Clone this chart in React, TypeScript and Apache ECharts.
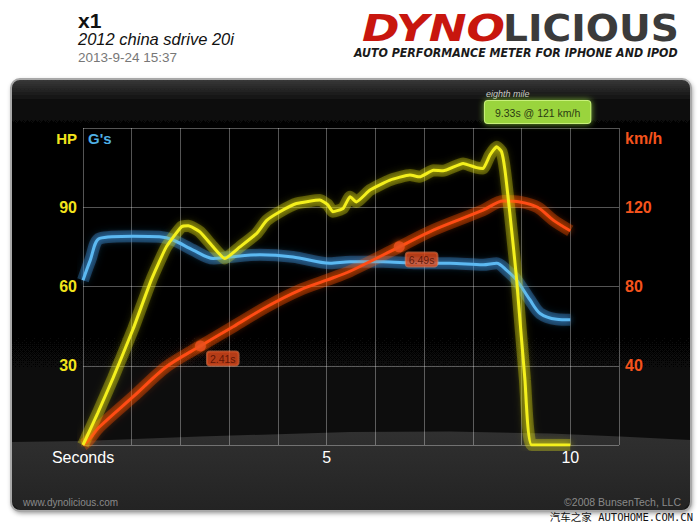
import React, { useEffect, useRef } from "react";
import * as echarts from "echarts";

// ---- data ----
const hpData: [number, number][] = [
  [0, 0], [0.3, 12], [0.62, 25.5], [1.03, 44], [1.4, 62.4], [1.71, 75], [2.02, 82.6],
  [2.16, 83], [2.4, 80.7], [2.67, 75], [2.91, 70.6], [3.22, 75], [3.56, 80], [3.77, 85],
  [4.04, 88.3], [4.38, 91.4], [4.86, 92.7], [5.02, 91], [5.13, 88.3], [5.34, 89.6],
  [5.48, 94], [5.61, 92], [5.89, 96.5], [6.3, 100.3], [6.71, 102.2], [6.91, 101.5],
  [7.19, 104], [7.39, 103.8], [7.8, 106.6], [8.08, 105], [8.21, 104.7], [8.35, 109.7],
  [8.49, 112.9], [8.59, 111], [8.66, 104], [8.76, 87.7], [8.86, 70], [8.9, 62.4],
  [9.07, 24.6], [9.21, 0], [10, 0],
];
const gData: [number, number][] = [
  [0, 0.312], [0.15, 0.35], [0.34, 0.391], [1.03, 0.395], [1.57, 0.394], [1.85, 0.388],
  [2.26, 0.369], [2.67, 0.353], [3.01, 0.356], [3.63, 0.36], [4.31, 0.356], [5.07, 0.344],
  [5.48, 0.347], [6.16, 0.347], [6.85, 0.344], [7.53, 0.344], [8.21, 0.341], [8.49, 0.344],
  [8.69, 0.331], [8.9, 0.312], [9.17, 0.275], [9.38, 0.249], [9.72, 0.238], [10, 0.237],
];
const speedData: [number, number][] = [
  [0, 0], [0.1, 2], [0.34, 9.2], [1.03, 24.4], [1.71, 39.5], [2.41, 50], [3.08, 59.7],
  [3.77, 69.8], [4.45, 78.2], [5.0, 83.2], [5.48, 87.7], [6.49, 100], [7.19, 108.5],
  [8.21, 118.5], [8.62, 123.2], [8.97, 122.7], [9.33, 120], [9.65, 113.5], [10, 108.1],
];
const milestones: [number, number][] = [[2.41, 50], [6.49, 100]];
const eighthMile: [number, number] = [9.33, 121];
const secondsLabels: [number, string][] = [[0, "Seconds"], [5, "5"], [10, "10"]];
const hpTopLabel = "HP";
const speedTopLabel = "km/h";

const YELLOW = "#f2e41c";
const ORANGE = "#f5531c";
const BLUE = "#4fb0e6";
const FONT = '"Liberation Sans", Arial, sans-serif';

function glowLine(name: string, axis: number, data: [number, number][], smooth: number, color: string, z: number) {
  return {
    name: name + "-glow", type: "line", yAxisIndex: axis, data, smooth, showSymbol: false, z,
    silent: true,
    lineStyle: { color, width: 12, opacity: 1, shadowBlur: 8, shadowColor: color },
  };
}

export default function App() {
  const ref = useRef<HTMLDivElement>(null);
  useEffect(() => {
    if (!ref.current) return;
    const chart = echarts.init(ref.current, undefined, { renderer: "svg" });
    const xMap = new Map(secondsLabels);
    const gridLine = { show: true, lineStyle: { color: "rgba(255,255,255,0.33)", width: 1 } };

    chart.setOption({
      animation: false,
      backgroundColor: "#ffffff",
      textStyle: { fontFamily: FONT },
      grid: { left: 83, right: 81, top: 128, bottom: 80 },
      xAxis: {
        type: "value", min: 0, max: 11, interval: 1,
        axisLine: { show: false }, axisTick: { show: false },
        splitLine: gridLine,
        axisLabel: {
          formatter: (v: number) => xMap.get(v) ?? "",
          color: "#ffffff", fontSize: 16, margin: 4, showMinLabel: true, showMaxLabel: true,
        },
      },
      yAxis: [
        {
          type: "value", position: "left", min: 0, max: 120, interval: 30,
          axisLine: { show: false }, axisTick: { show: false }, splitLine: gridLine,
          axisLabel: {
            formatter: (v: number) => (v === 120 ? "{top|" + hpTopLabel + "}" : v === 0 ? "" : String(v)),
            color: YELLOW, fontSize: 16, fontWeight: "bold", margin: 6,
            rich: { top: { padding: [20, 0, 0, 0], fontSize: 15, fontWeight: "bold", color: YELLOW } },
          },
        },
        {
          type: "value", position: "right", min: 0, max: 160, interval: 40,
          axisLine: { show: false }, axisTick: { show: false }, splitLine: { show: false },
          axisLabel: {
            formatter: (v: number) => (v === 160 ? "{top|" + speedTopLabel + "}" : v === 0 ? "" : String(v)),
            color: ORANGE, fontSize: 16, fontWeight: "bold", margin: 6,
            rich: { top: { padding: [20, 0, 0, 0], fontSize: 16, fontWeight: "bold", color: ORANGE } },
          },
        },
        { type: "value", min: 0, max: 0.6, show: false },
      ],
      graphic: [
        {
          type: "rect", z: -30, silent: true,
          shape: { x: 11, y: 79, width: 680, height: 432, r: 9 },
          style: {
            fill: {
              type: "linear", x: 0, y: 0, x2: 0, y2: 1,
              colorStops: [
                { offset: 0, color: "#3a3a3a" }, { offset: 0.05, color: "#0e0e0e" },
                { offset: 0.14, color: "#000000" }, { offset: 0.75, color: "#080808" },
                { offset: 1, color: "#151515" },
              ],
            },
            shadowBlur: 5, shadowOffsetX: 1, shadowOffsetY: 2, shadowColor: "rgba(0,0,0,0.45)",
          },
        },
        {
          type: "polygon", z: -29, silent: true,
          shape: {
            points: [
              [12, 442], [83, 441], [200, 436.5], [350, 432], [450, 431.5], [550, 433.5],
              [620, 436.5], [690, 440], [690, 503], [683, 510], [19, 510], [12, 503],
            ],
          },
          style: {
            fill: {
              type: "linear", x: 0, y: 0, x2: 0, y2: 1,
              colorStops: [{ offset: 0, color: "#303030" }, { offset: 1, color: "#232323" }],
            },
          },
        },
        {
          type: "rect", z: -28, silent: true,
          shape: { x: 11, y: 79, width: 680, height: 432, r: 9 },
          style: { fill: "none", stroke: "#a8a8a8", lineWidth: 2 },
        },
        {
          type: "text", x: 78, y: 20,
          style: { text: "x1", font: 'bold 21px ' + FONT, fill: "#111", textVerticalAlign: "middle" },
        },
        {
          type: "text", x: 78, y: 39,
          style: { text: "2012 china sdrive 20i", font: 'italic 16.5px ' + FONT, fill: "#111", textVerticalAlign: "middle" },
        },
        {
          type: "text", x: 78, y: 57,
          style: { text: "2013-9-24 15:37", font: '13.5px ' + FONT, fill: "#777", textVerticalAlign: "middle" },
        },
        {
          type: "text", x: 362, y: 27.5, scaleX: 1.19,
          style: { text: "DYNO", font: 'italic bold 38px "DejaVu Sans"', fill: "#c8160e", textVerticalAlign: "middle" },
        },
        {
          type: "text", x: 503, y: 27.5, scaleX: 1.03,
          style: { text: "LICIOUS", font: 'bold 38px "DejaVu Sans"', fill: "#3b3b3b", textVerticalAlign: "middle" },
        },
        {
          type: "text", x: 354, y: 53, scaleX: 0.85,
          style: { text: "AUTO PERFORMANCE METER FOR IPHONE AND IPOD", font: 'italic bold 13px "DejaVu Sans"', fill: "#1a1a1a", textVerticalAlign: "middle" },
        },
        {
          type: "text", x: 88, y: 138,
          style: { text: "G's", font: 'bold 15px ' + FONT, fill: BLUE, textVerticalAlign: "middle" },
        },
        {
          type: "text", x: 23, y: 502,
          style: { text: "www.dynolicious.com", font: '10px ' + FONT, fill: "#8a8a8a", textVerticalAlign: "middle" },
        },
        {
          type: "text", x: 681, y: 502,
          style: { text: "©2008 BunsenTech, LLC", font: '10.5px ' + FONT, fill: "#8a8a8a", textAlign: "right", textVerticalAlign: "middle" },
        },
        {
          type: "text", x: 693, y: 517,
          style: { text: "汽车之家 AUTOHOME.COM.CN", font: '10.5px "DejaVu Sans Mono", "Noto Sans CJK SC"', fill: "#111", textAlign: "right", textVerticalAlign: "middle" },
        },
      ],
      series: [
        glowLine("G's", 2, gData, 0.3, "rgba(60,150,220,0.35)", 1),
        glowLine("km/h", 1, speedData, 0.3, "rgba(255,80,10,0.35)", 1),
        glowLine("HP", 0, hpData, 0.15, "rgba(220,220,20,0.33)", 1),
        {
          name: "G's", type: "line", yAxisIndex: 2, data: gData, smooth: 0.3, showSymbol: false, z: 2,
          lineStyle: { color: "#5cb9f2", width: 3, shadowBlur: 6, shadowColor: "rgba(60,150,230,0.9)" },
        },
        {
          name: "km/h", type: "line", yAxisIndex: 1, data: speedData, smooth: 0.3, showSymbol: false, z: 3,
          lineStyle: { color: "#ff4c12", width: 3, shadowBlur: 6, shadowColor: "rgba(255,90,0,0.9)" },
          markLine: {
            silent: true, symbol: "none", animation: false,
            lineStyle: { color: "#8fd13a", width: 1.5, type: "solid", shadowBlur: 6, shadowColor: "rgba(143,209,58,0.8)" },
            label: {
              show: true, position: "end", distance: 5,
              formatter: "{a|eighth mile}\n{b|" + eighthMile[0].toFixed(2) + "s @ " + eighthMile[1] + " km/h}",
              rich: {
                a: { fontSize: 9, fontStyle: "italic", color: "#c8c8c8", align: "left", padding: [0, 0, 3, 1] },
                b: {
                  fontSize: 10.5, color: "#2b3a12", backgroundColor: "#9ad43c", borderColor: "#c8f07a",
                  borderWidth: 1, borderRadius: 3, padding: [6, 10, 5, 10], align: "left",
                  shadowBlur: 6, shadowColor: "rgba(150,220,60,0.8)",
                },
              },
            },
            data: [{ xAxis: eighthMile[0] }],
          },
        },
        {
          name: "HP", type: "line", yAxisIndex: 0, data: hpData, smooth: 0.15, showSymbol: false, z: 4,
          lineStyle: { color: "#f4f01e", width: 3, shadowBlur: 6, shadowColor: "rgba(225,220,0,0.9)" },
        },
        {
          name: "milestones", type: "scatter", yAxisIndex: 1, data: milestones, symbolSize: 11, z: 5,
          itemStyle: { color: "#e8501e", shadowBlur: 6, shadowColor: "rgba(255,90,0,0.8)" },
          label: {
            show: true, position: [12, 11],
            formatter: (p: any) => p.value[0].toFixed(2) + "s",
            fontSize: 10.5, color: "#4a0c00", backgroundColor: "#e04a1c", borderRadius: 3,
            borderColor: "rgba(255,140,90,0.7)", borderWidth: 1,
            padding: [2, 3, 1, 3],
          },
        },
      ],
    });
    return () => chart.dispose();
  }, []);
  return (
    <div
      ref={ref}
      style={{ position: "fixed", left: 0, top: 0, width: 700, height: 525, background: "#fff" }}
    />
  );
}
